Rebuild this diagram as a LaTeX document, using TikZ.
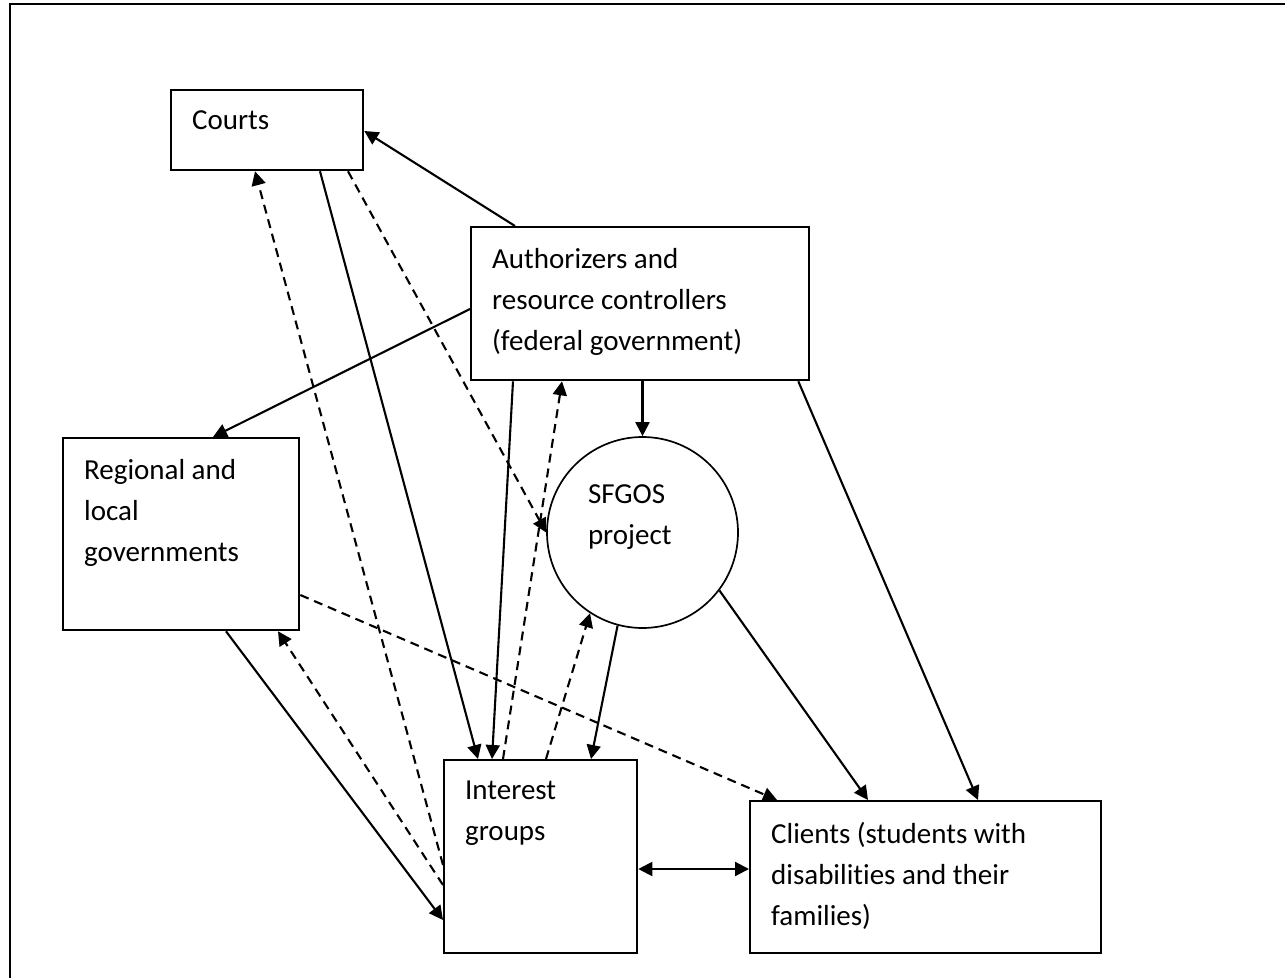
\documentclass[tikz,border=0pt]{standalone}
\usepackage{fontspec}
\setmainfont{Carlito}[Ligatures=NoCommon]
\usetikzlibrary{arrows.meta,calc}

% top aligned text block inside a box: width, height, lines
\newcommand{\boxtext}[3]{\parbox[t][#2][t]{#1}{#3}}

\begin{document}
\begin{tikzpicture}[x=0.5pt, y=-0.5pt, >={Triangle[length=7pt,width=7pt]},
            actor/.style={draw, line width=1.15pt, anchor=north west, inner xsep=10.5pt, inner ysep=10.5pt,
                          font=\fontsize{14.5pt}{20.5pt}\selectfont},
            project/.style={draw, circle, line width=0.85pt, inner sep=0pt, minimum size=95.5pt,
                          font=\fontsize{14.5pt}{20.5pt}\selectfont},
            flow/.style={line width=1.05pt, ->},
            dflow/.style={flow, dash pattern=on 4.5pt off 3pt}]
        \useasboundingbox (0,0) rectangle (1285,978);
        \draw[line width=1.15pt] (10,978) -- (10,4) -- (1285,4);

        \node[actor] (courts)   at (170,89)  {\boxtext{75pt}{19pt}{Courts}};
        \node[actor] (auth)     at (470,226) {\boxtext{148pt}{55.5pt}{Authorizers and\\resource controllers\\(federal government)}};
        \node[actor] (regional) at (62,437)  {\boxtext{97pt}{75pt}{Regional and\\local\\governments}};
        \node[project] (sfgos)  at (642.5,532.5) {\boxtext{54.5pt}{47.5pt}{SFGOS\\project}};
        \node[actor] (interest) at (443,759) {\boxtext{75.5pt}{75.5pt}{Interest\\groups}};
        \node[actor] (clients)  at (749,800) {\boxtext{154.5pt}{55pt}{Clients (students with\\disabilities and their\\families)}};

        % solid connectors
        \draw[flow] ($(auth.north west)+(45,0)$) -- ($(courts.north east)+(0,42)$);
        \draw[flow] ($(auth.north west)+(0,83)$) -- ($(regional.north west)+(151,0)$);
        \draw[flow] ($(auth.south west)+(43,0)$) -- ($(interest.north west)+(49,0)$);
        \draw[flow] (sfgos.north |- auth.south) -- (sfgos.north);
        \draw[flow] ($(auth.south east)+(-12,0)$) -- ($(clients.north west)+(229,0)$);
        \draw[flow] ($(courts.south west)+(150,0)$) -- ($(interest.north west)+(35,0)$);
        \draw[flow] ($(regional.south west)+(164,0)$) -- ($(interest.north west)+(0,161)$);
        \draw[flow] (sfgos.255) -- ($(interest.north west)+(148,0)$);
        \draw[flow] (sfgos.323) -- ($(clients.north west)+(119,0)$);
        \draw[flow, <->] ($(interest.north east)+(0,110)$) -- ($(clients.north west)+(0,69)$);

        % dashed connectors
        \draw[dflow] ($(courts.south west)+(178,0)$) -- (sfgos.west);
        \draw[dflow] ($(interest.north west)+(0,106)$) -- ($(courts.south west)+(85,0)$);
        \draw[dflow] ($(interest.north west)+(0,126)$) -- ($(regional.south west)+(216,0)$);
        \draw[dflow] ($(regional.north east)+(0,158)$) -- ($(clients.north west)+(28,0)$);
        \draw[dflow] ($(interest.north west)+(60,0)$) -- ($(auth.south west)+(92,0)$);
        \draw[dflow] ($(interest.north west)+(103,0)$) -- (sfgos.237);
\end{tikzpicture}
\end{document}
